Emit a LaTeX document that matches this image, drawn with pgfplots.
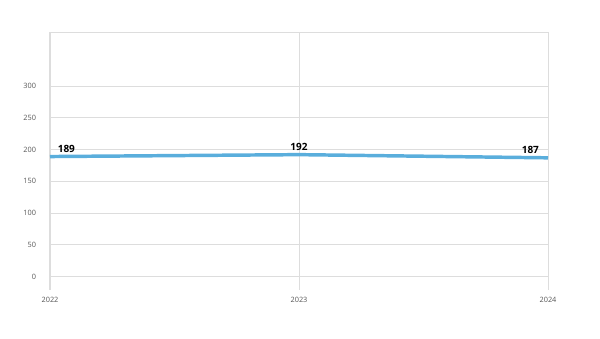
\documentclass[border=0pt]{standalone}
\usepackage{pgfplots}
\pgfplotsset{compat=1.18}
\usepackage{fontspec}
\setmainfont{Open Sans}
\definecolor{linec}{HTML}{5AAEDC}
\definecolor{gridc}{HTML}{DDDDDD}
\definecolor{tickc}{HTML}{555555}
\begin{document}
\begin{tikzpicture}[x=0.75pt,y=0.75pt]
\path (0,0) rectangle (600,339);
\begin{axis}[
  at={(50*0.75pt,49*0.75pt)}, anchor=south west,
  scale only axis, width=498*0.75pt, height=258*0.75pt,
  xmin=2022, xmax=2024, ymin=-21, ymax=385,
  xtick={2022,2023,2024},
  xticklabels={2022,2023,2024},
  ytick={0,50,100,150,200,250,300},
  axis line style={draw=gridc, line width=0.75pt},
  separate axis lines,
  x axis line style={draw=none},
  ymajorgrids, xmajorgrids,
  grid style={draw=gridc, line width=0.75pt},
  major tick length=0pt,
  tick style={draw=none},
  ticklabel style={font=\fontsize{5.5}{6}\selectfont, text=tickc},
  /pgf/number format/assume math mode=true,
  yticklabel style={xshift=-7pt},
  xticklabel style={yshift=-2pt},
  clip=false,
]
\draw[gridc, line width=0.75pt] (rel axis cs:0,1) -- (rel axis cs:1,1);
\addplot[color=linec, line width=2.6pt] coordinates {(2022,189) (2023,192) (2024,187)};
\node[font=\bfseries\fontsize{7.5}{8}\selectfont, anchor=south west, inner sep=1pt] at (axis cs:2022.025,193) {189};
\node[font=\bfseries\fontsize{7.5}{8}\selectfont, anchor=south, inner sep=1pt] at (axis cs:2023,196) {192};
\node[font=\bfseries\fontsize{7.5}{8}\selectfont, anchor=south east, inner sep=1pt] at (axis cs:2023.97,191) {187};
\end{axis}
\end{tikzpicture}
\end{document}
